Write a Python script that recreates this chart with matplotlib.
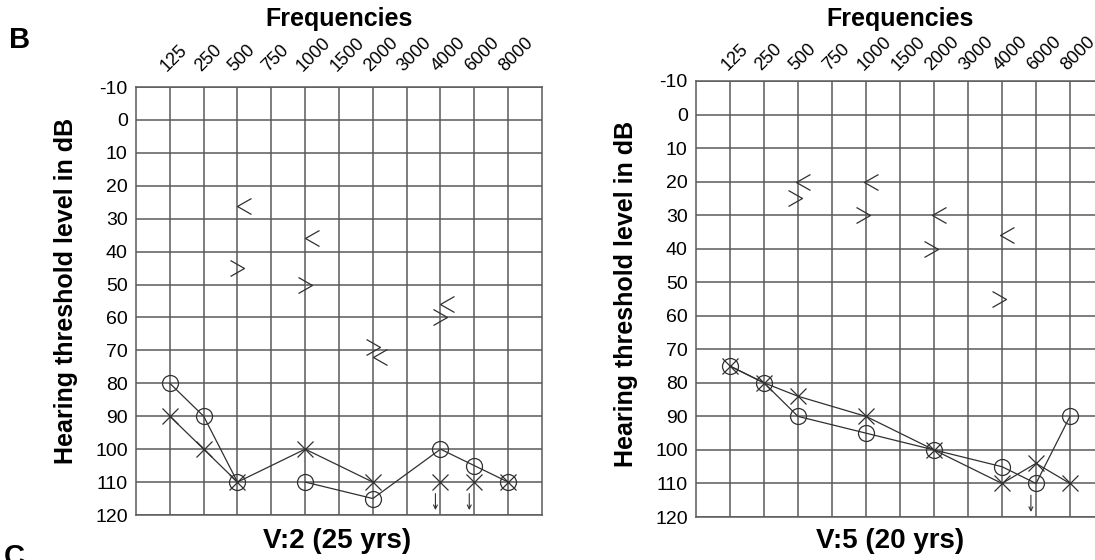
import numpy as np
import matplotlib.pyplot as plt
from matplotlib.path import Path

plt.rcParams['font.family'] = ['Liberation Sans', 'DejaVu Sans']
plt.rcParams['axes.unicode_minus'] = False

# --- 1. DATA ---
freq_labels = ['125', '250', '500', '750', '1000', '1500', '2000', '3000', '4000', '6000', '8000']
db_ticks = list(range(-10, 130, 10))

# V:2 (25 yrs)
v2_o_freqs = [[125, 250, 500], [1000, 2000, 4000, 6000, 8000]]
v2_o_db = [[80, 90, 110], [110, 115, 100, 105, 110]]
v2_x_freqs = [[125, 250, 500, 1000, 2000], [4000], [6000], [8000]]
v2_x_db = [[90, 100, 110, 100, 110], [110], [110], [110]]
v2_arrow_freqs = [4000, 6000]
v2_arrow_db = [110, 110]
v2_lt_freqs = [500, 1000, 2000, 4000]
v2_lt_db = [26, 36, 72, 56]
v2_gt_freqs = [500, 1000, 2000, 4000]
v2_gt_db = [45, 50, 69, 60]

# V:5 (20 yrs)
v5_o_freqs = [[125, 250, 500, 1000, 2000, 4000, 6000, 8000]]
v5_o_db = [[75, 80, 90, 95, 100, 105, 110, 90]]
v5_x_freqs = [[125, 250, 500, 1000, 2000, 4000, 6000, 8000]]
v5_x_db = [[75, 80, 84, 90, 100, 110, 104, 110]]
v5_arrow_freqs = [6000]
v5_arrow_db = [110]
v5_lt_freqs = [500, 1000, 2000, 4000]
v5_lt_db = [20, 20, 30, 36]
v5_gt_freqs = [500, 1000, 2000, 4000]
v5_gt_db = [25, 30, 40, 55]

# --- 2. STYLE ---
ink = '#303030'
grid_c = '#5a5a5a'
lt_marker = Path([(0.875, 1), (-0.875, 0), (0.875, -1)], [Path.MOVETO, Path.LINETO, Path.LINETO])
gt_marker = Path([(-0.875, 1), (0.875, 0), (-0.875, -1)], [Path.MOVETO, Path.LINETO, Path.LINETO])


def idx(freqs):
    return np.array([freq_labels.index(str(f)) for f in freqs], dtype=float)


def audiogram(ax, o_f, o_db, x_f, x_db, ar_f, ar_db, lt_f, lt_db, gt_f, gt_db,
              lt_shift, gt_shift, label_pad):
    ax.set_xlim(-1, 11)
    ax.set_ylim(120, -10)
    ax.set_xticks(range(11))
    ax.set_xticklabels(freq_labels)
    ax.set_yticks(db_ticks)
    ax.xaxis.tick_top()
    ax.tick_params(axis='x', length=0, pad=label_pad, labelsize=13)
    ax.tick_params(axis='y', length=0, pad=6, labelsize=14)
    plt.setp(ax.get_xticklabels(), rotation=45, ha='left', va='bottom', rotation_mode='anchor')
    ax.grid(True, color=grid_c, lw=1.1)
    ax.set_axisbelow(True)
    for s in ax.spines.values():
        s.set_color(grid_c)
        s.set_linewidth(1.1)

    # air conduction, right ear (O) and left ear (X)
    for fs, ds in zip(o_f, o_db):
        ax.plot(idx(fs), ds, '-', color=ink, lw=0.9, marker='o', markersize=11.5,
                markerfacecolor='none', markeredgecolor=ink, markeredgewidth=0.9)
    for fs, ds in zip(x_f, x_db):
        ax.plot(idx(fs), ds, '-', color=ink, lw=0.9, marker='x', markersize=12,
                markeredgecolor=ink, markeredgewidth=0.9)

    # no response arrows
    for f, d in zip(ar_f, ar_db):
        xx = idx([f])[0] - 0.15
        ax.annotate('', xy=(xx, d + 8.5), xytext=(xx, d + 3.5),
                    arrowprops=dict(arrowstyle='->', lw=0.8, color=ink,
                                    shrinkA=0, shrinkB=0, mutation_scale=7))

    # bone conduction < and >
    ax.plot(idx(lt_f) + lt_shift, lt_db, linestyle='none', marker=lt_marker, markersize=11.5,
            markerfacecolor='none', markeredgecolor=ink, markeredgewidth=0.9)
    ax.plot(idx(gt_f) + gt_shift, gt_db, linestyle='none', marker=gt_marker, markersize=11.5,
            markerfacecolor='none', markeredgecolor=ink, markeredgewidth=0.9)

    ax.set_ylabel('Hearing threshold level in dB', fontsize=18, fontweight='bold')


# --- 3. GRAPH IT ---
fig = plt.figure(figsize=(10.95, 5.6), dpi=100)

ax1 = fig.add_axes([136 / 1095, 45 / 560, 406 / 1095, 428 / 560])
audiogram(ax1, v2_o_freqs, v2_o_db, v2_x_freqs, v2_x_db, v2_arrow_freqs, v2_arrow_db,
          v2_lt_freqs, v2_lt_db, v2_gt_freqs, v2_gt_db, 0.2, 0.0, 9)
ax1.yaxis.set_label_coords(-0.142, 0.523)

ax2 = fig.add_axes([696 / 1095, 43 / 560, 408 / 1095, 436 / 560])
audiogram(ax2, v5_o_freqs, v5_o_db, v5_x_freqs, v5_x_db, v5_arrow_freqs, v5_arrow_db,
          v5_lt_freqs, v5_lt_db, v5_gt_freqs, v5_gt_db, 0.15, -0.1, 5)
ax2.yaxis.set_label_coords(-0.142, 0.511)

fig.text(339 / 1095, 1 - 19 / 560, 'Frequencies', ha='center', va='center', fontsize=18, fontweight='bold')
fig.text(900 / 1095, 1 - 19 / 560, 'Frequencies', ha='center', va='center', fontsize=18, fontweight='bold')
fig.text(337 / 1095, 1 - 541 / 560, 'V:2 (25 yrs)', ha='center', va='center', fontsize=20, fontweight='bold')
fig.text(890 / 1095, 1 - 541 / 560, 'V:5 (20 yrs)', ha='center', va='center', fontsize=20, fontweight='bold')
fig.text(9 / 1095, 1 - 48 / 560, 'B', ha='left', va='baseline', fontsize=21, fontweight='bold')
fig.text(4 / 1095, 1 - 543 / 560, 'C', ha='left', va='top', fontsize=21, fontweight='bold')

fig.savefig('out.png', dpi=100)
